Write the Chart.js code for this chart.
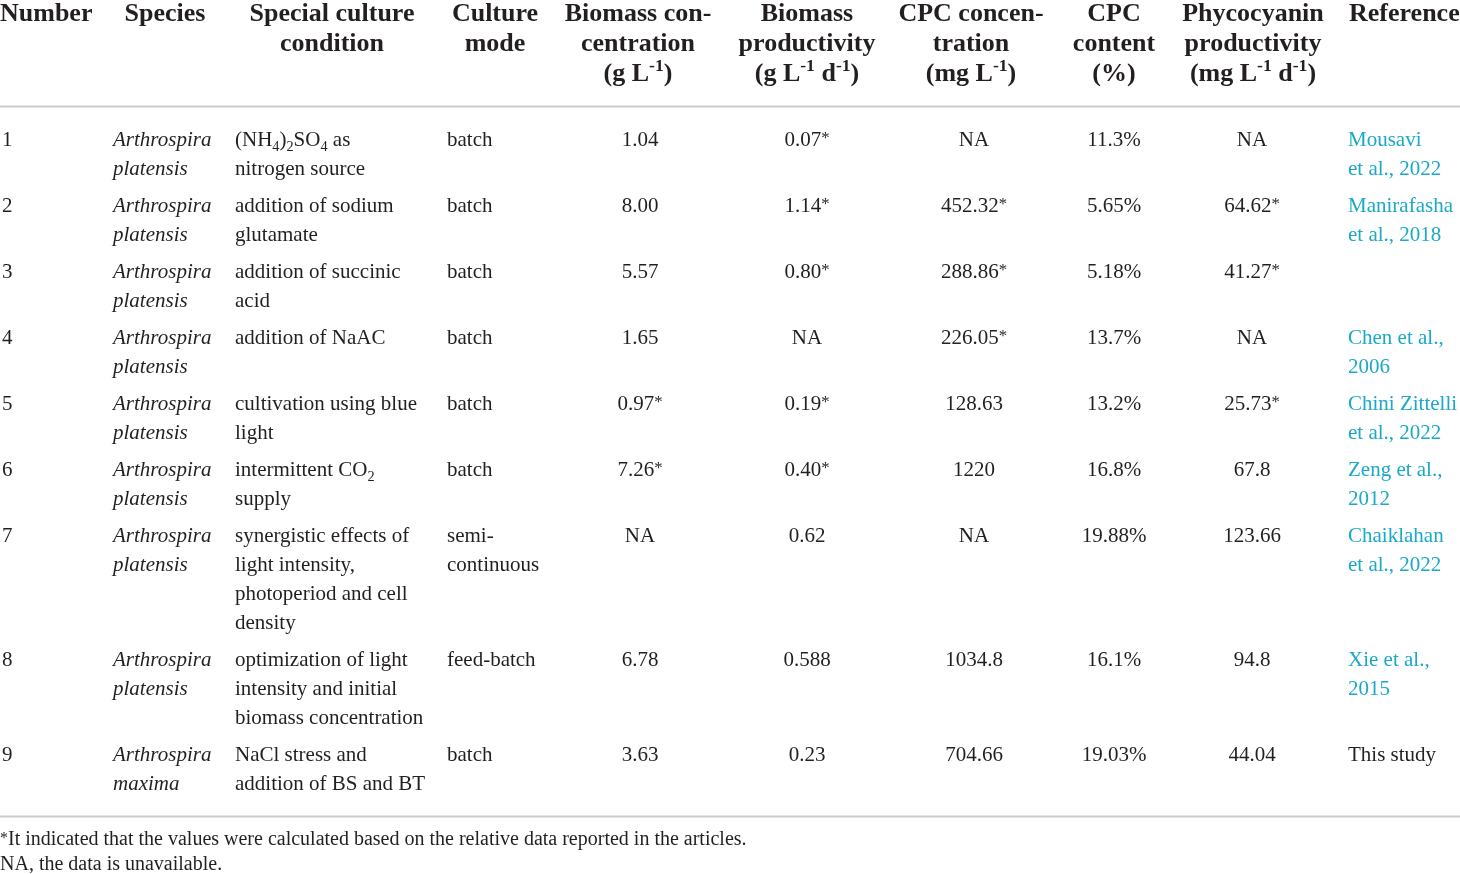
<!DOCTYPE html>
<html><head><meta charset="utf-8">
<script src="https://cdn.jsdelivr.net/npm/chart.js@4"></script>
<style>html,body{margin:0;padding:0;background:#fff}#wrap{width:1460px;height:874px;position:relative}</style>
</head><body><div id="wrap"><canvas id="c"></canvas></div>
<script>
// ---- table content ----
const headers = [
  ['Number'],
  ['Species'],
  ['Special culture', 'condition'],
  ['Culture', 'mode'],
  ['Biomass con-', 'centration', '(g L^{-1})'],
  ['Biomass', 'productivity', '(g L^{-1} d^{-1})'],
  ['CPC concen-', 'tration', '(mg L^{-1})'],
  ['CPC', 'content', '(%)'],
  ['Phycocyanin', 'productivity', '(mg L^{-1} d^{-1})'],
  ['Reference']
];
const numbers = ['1','2','3','4','5','6','7','8','9'];
const species = [
  ['Arthrospira','platensis'],['Arthrospira','platensis'],['Arthrospira','platensis'],
  ['Arthrospira','platensis'],['Arthrospira','platensis'],['Arthrospira','platensis'],
  ['Arthrospira','platensis'],['Arthrospira','platensis'],['Arthrospira','maxima']
];
const conditions = [
  ['(NH_{4})_{2}SO_{4} as','nitrogen source'],
  ['addition of sodium','glutamate'],
  ['addition of succinic','acid'],
  ['addition of NaAC'],
  ['cultivation using blue','light'],
  ['intermittent CO_{2}','supply'],
  ['synergistic effects of','light intensity,','photoperiod and cell','density'],
  ['optimization of light','intensity and initial','biomass concentration'],
  ['NaCl stress and','addition of BS and BT']
];
const cultureModes = [['batch'],['batch'],['batch'],['batch'],['batch'],['batch'],['semi-','continuous'],['feed-batch'],['batch']];
const biomassConc = ['1.04','8.00','5.57','1.65','0.97*','7.26*','NA','6.78','3.63'];
const biomassProd = ['0.07*','1.14*','0.80*','NA','0.19*','0.40*','0.62','0.588','0.23'];
const cpcConc = ['NA','452.32*','288.86*','226.05*','128.63','1220','NA','1034.8','704.66'];
const cpcContent = ['11.3%','5.65%','5.18%','13.7%','13.2%','16.8%','19.88%','16.1%','19.03%'];
const phycoProd = ['NA','64.62*','41.27*','NA','25.73*','67.8','123.66','94.8','44.04'];
const references = [
  ['Mousavi','et al., 2022'],['Manirafasha','et al., 2018'],[],['Chen et al.,','2006'],
  ['Chini Zittelli','et al., 2022'],['Zeng et al.,','2012'],['Chaiklahan','et al., 2022'],
  ['Xie et al.,','2015'],['This study']
];
const referenceLinked = [true,true,false,true,true,true,true,true,false];
const footnotes = [
  '*It indicated that the values were calculated based on the relative data reported in the articles.',
  'NA, the data is unavailable.'
];

// ---- layout / style ----
const FAMILY = '"Liberation Serif", "Times New Roman", serif';
const TEXT = '#231f20';
const LINK = '#1aa9c6';
const RULE = '#cccccc';
const headerAnchors = [[0,'left'],[165,'center'],[332,'center'],[495,'center'],[638,'center'],[807,'center'],[971,'center'],[1114,'center'],[1253,'center'],[1349,'left']];
const dataAnchors = [[2,'left'],[113,'left'],[235,'left'],[447,'left'],[640,'center'],[807,'center'],[974,'center'],[1114,'center'],[1252,'center'],[1348,'left']];
const L = {headerBase:21, headerLine:30, headerSize:26, topRule:106.5, bottomRule:816.5,
           firstBase:146, bodyLine:29, rowGap:8, bodySize:21, footBase:845, footLine:24.5, footSize:20};

function toLines(v){ return Array.isArray(v) ? v : [v]; }
const columns = [numbers, species, conditions, cultureModes, biomassConc, biomassProd, cpcConc, cpcContent, phycoProd, references];

function parseRich(s){
  const out=[]; const re=/(_\{[^}]*\}|\^\{[^}]*\}|\*)/g; let last=0, m;
  while((m=re.exec(s))){ if(m.index>last) out.push({t:s.slice(last,m.index),k:'n'});
    if(m[0]==='*') out.push({t:'*',k:'star'});
    else out.push({t:m[0].slice(2,-1),k:m[0][0]==='_'?'sub':'sup'});
    last=re.lastIndex; }
  if(last<s.length) out.push({t:s.slice(last),k:'n'});
  return out;
}
function fontStr(style,weight,size){ return `${style} ${weight} ${size}px ${FAMILY}`; }
function drawRich(ctx, s, x, y, align, style, weight, size, color){
  const segs=parseRich(s); let w=0;
  segs.forEach(g=>{ const sz = g.k==='n'?size: g.k==='star'? size*0.8 : size*0.68; ctx.font=fontStr(style,weight,sz); g.sz=sz; g.w=ctx.measureText(g.t).width; w+=g.w; });
  let cx = align==='center' ? x-w/2 : x;
  ctx.fillStyle=color; ctx.textBaseline='alphabetic'; ctx.textAlign='left';
  segs.forEach(g=>{ ctx.font=fontStr(style,weight,g.sz);
    const dy = g.k==='sub'? size*0.22 : g.k==='sup'? -size*0.38 : g.k==='star'? -size*0.12 : 0;
    ctx.fillText(g.t, cx, y+dy); cx+=g.w; });
}

const tablePlugin = {
  id:'table',
  afterDraw(chart){
    const ctx=chart.ctx, xs=chart.scales.x, ys=chart.scales.y;
    const X=v=>xs.getPixelForValue(v), Y=v=>ys.getPixelForValue(v);
    ctx.save();
    headers.forEach((lines,ci)=>{ const [ax,al]=headerAnchors[ci];
      lines.forEach((ln,li)=>drawRich(ctx, ln, X(ax), Y(L.headerBase+li*L.headerLine), al, 'normal','bold', L.headerSize, TEXT)); });
    ctx.fillStyle=RULE;
    [L.topRule, L.bottomRule].forEach(r=>{ ctx.fillRect(X(0), Y(r)-1, X(1460)-X(0), 2); });
    let base=L.firstBase;
    numbers.forEach((_,ri)=>{
      let maxLines=1;
      columns.forEach((col,ci)=>{ const lines=toLines(col[ri]); maxLines=Math.max(maxLines,lines.length);
        const [ax,al]=dataAnchors[ci];
        const style = ci===1 ? 'italic' : 'normal';
        const color = (ci===9 && referenceLinked[ri]) ? LINK : TEXT;
        lines.forEach((ln,li)=>drawRich(ctx, ln, X(ax), Y(base+li*L.bodyLine), al, style, 'normal', L.bodySize, color));
      });
      base += maxLines*L.bodyLine + L.rowGap;
    });
    footnotes.forEach((f,i)=>drawRich(ctx, f, X(0), Y(L.footBase+i*L.footLine), 'left', 'normal','normal', L.footSize, TEXT));
    ctx.restore();
  }
};
const bgPlugin = {id:'bg', beforeDraw(c){ const ctx=c.ctx; ctx.save(); ctx.fillStyle='#fff'; ctx.fillRect(0,0,c.width,c.height); ctx.restore(); }};

new Chart(document.getElementById('c'), {
  type:'scatter',
  data:{datasets:[{data:[], pointRadius:0}]},
  options:{
    responsive:true, maintainAspectRatio:false, animation:false,
    layout:{padding:0},
    plugins:{legend:{display:false}, tooltip:{enabled:false}},
    scales:{
      x:{type:'linear', min:0, max:1460, display:false},
      y:{type:'linear', min:0, max:874, reverse:true, display:false}
    }
  },
  plugins:[bgPlugin, tablePlugin]
});
</script>
</body></html>
